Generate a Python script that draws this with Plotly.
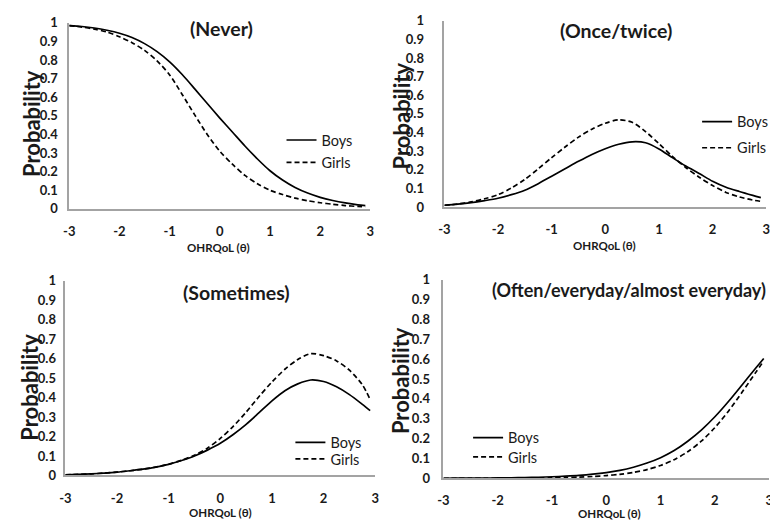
import plotly.graph_objects as go

# ---------------- data ----------------
THETA = [-3, -2.75, -2.5, -2.25, -2, -1.75, -1.5, -1.25, -1, -0.75, -0.5, -0.25,
         0, 0.25, 0.5, 0.75, 1, 1.25, 1.5, 1.75, 2, 2.25, 2.5, 2.75, 2.9]

NEVER_BOYS = [0.985, 0.980, 0.972, 0.960, 0.944, 0.921, 0.888, 0.845, 0.790, 0.722, 0.645, 0.566,
              0.488, 0.413, 0.338, 0.268, 0.205, 0.155, 0.115, 0.085, 0.062, 0.045, 0.032, 0.022, 0.018]
NEVER_GIRLS = [0.985, 0.977, 0.966, 0.950, 0.925, 0.893, 0.852, 0.795, 0.720, 0.615, 0.505, 0.400,
               0.310, 0.240, 0.180, 0.135, 0.100, 0.077, 0.058, 0.044, 0.033, 0.025, 0.018, 0.013, 0.011]

ONCE_BOYS = [0.009, 0.015, 0.023, 0.034, 0.047, 0.066, 0.090, 0.125, 0.165, 0.205, 0.245, 0.282,
             0.313, 0.337, 0.350, 0.345, 0.312, 0.265, 0.220, 0.180, 0.138, 0.106, 0.083, 0.062, 0.050]
ONCE_GIRLS = [0.009, 0.016, 0.027, 0.044, 0.066, 0.102, 0.148, 0.205, 0.265, 0.322, 0.375, 0.418,
              0.450, 0.468, 0.455, 0.405, 0.340, 0.272, 0.212, 0.160, 0.115, 0.078, 0.054, 0.037, 0.030]

SOMETIMES_BOYS = [0.003, 0.005, 0.008, 0.012, 0.017, 0.024, 0.032, 0.043, 0.057, 0.077, 0.100, 0.130,
                  0.165, 0.210, 0.262, 0.322, 0.383, 0.435, 0.470, 0.490, 0.482, 0.455, 0.415, 0.365, 0.333]
SOMETIMES_GIRLS = [0.003, 0.005, 0.008, 0.012, 0.017, 0.024, 0.032, 0.043, 0.058, 0.078, 0.104, 0.140,
                   0.190, 0.252, 0.325, 0.405, 0.480, 0.545, 0.595, 0.625, 0.615, 0.588, 0.540, 0.465, 0.390]

OFTEN_BOYS = [0.0005, 0.0007, 0.001, 0.0013, 0.002, 0.003, 0.004, 0.0055, 0.008, 0.011, 0.015, 0.021,
              0.029, 0.040, 0.056, 0.077, 0.104, 0.140, 0.187, 0.243, 0.310, 0.387, 0.470, 0.554, 0.603]
OFTEN_GIRLS = [0.0001, 0.0002, 0.0003, 0.0004, 0.0006, 0.0009, 0.0013, 0.0019, 0.0028, 0.0042, 0.0062, 0.0093,
               0.014, 0.020, 0.030, 0.044, 0.065, 0.094, 0.134, 0.187, 0.255, 0.338, 0.433, 0.532, 0.591]

PANEL_TITLES = ["(Never)", "(Once/twice)", "(Sometimes)", "(Often/everyday/almost everyday)"]
SERIES_NAMES = ["Boys", "Girls"]
X_TICKS = [-3, -2, -1, 0, 1, 2, 3]
Y_TICKS = [0, 0.1, 0.2, 0.3, 0.4, 0.5, 0.6, 0.7, 0.8, 0.9, 1]
Y_TICK_LABELS = ["0", "0.1", "0.2", "0.3", "0.4", "0.5", "0.6", "0.7", "0.8", "0.9", "1"]
X_TITLE = "OHRQoL (θ)"
Y_TITLE = "Probability"

# ---------------- layout geometry (pixels) ----------------
W, H = 778, 521
FONT = "Lato"
TXT = "#1a1a1a"
AXCOL = "#a3a3a3"

# (x_left, x_right, y_top(=1), y_bottom(=0)) per panel
PANELS = [
    (56, 361, 7, 199),
    (436, 762, 5, 197),
    (52, 366, 273, 474),
    (435, 765, 272, 477),
]
TITLE_POS = [(210, 13), (610, 15), (225, 285), (623, 283)]
TITLE_SIZE = [19.5, 19.5, 19.5, 18]
XTITLE_POS = [(207, 239), (598, 237), (209, 512), (603, 513)]
XSTANDOFF = [10, 10, 10, 9]
YTITLE_POS = [(2, 111), (377, 103), (0, 383), (376, 376)]
YSTANDOFF = [7, 16, 5, 9]
# legend line start x, Boys centre y, Girls centre y
LEGEND_POS = [(271, 128, 151), (692, 109, 136), (280, 440, 457), (460, 435, 455)]

data = [(NEVER_BOYS, NEVER_GIRLS), (ONCE_BOYS, ONCE_GIRLS),
        (SOMETIMES_BOYS, SOMETIMES_GIRLS), (OFTEN_BOYS, OFTEN_GIRLS)]

fig = go.Figure()
annotations = []
layout = {}

for i, (boys, girls) in enumerate(data):
    sfx = "" if i == 0 else str(i + 1)
    lx, yb_c, yg_c = LEGEND_POS[i]
    for j, (vals, dash, ly) in enumerate([(boys, "solid", yb_c), (girls, "5px,3px", yg_c)]):
        k = 2 * i + j + 1
        leg = "legend" if k == 1 else f"legend{k}"
        fig.add_trace(go.Scatter(
            x=THETA, y=vals, mode="lines", name=SERIES_NAMES[j],
            line=dict(color="black", width=1.7, dash=dash, shape="spline", smoothing=0.8),
            xaxis="x" + sfx, yaxis="y" + sfx, legend=leg,
            hoverinfo="skip"))
        layout[leg] = dict(x=lx / W, y=1 - ly / H, xanchor="left", yanchor="middle",
                           bgcolor="rgba(0,0,0,0)", borderwidth=0,
                           font=dict(family=FONT, size=14.5, color=TXT),
                           itemwidth=30)

    x0, x1, yt, yb = PANELS[i]
    layout["xaxis" + sfx] = dict(
        domain=[x0 / W, x1 / W], range=[-3, 3], anchor="y" + sfx,
        tickmode="array", tickvals=X_TICKS, ticktext=[str(v) for v in X_TICKS],
        showgrid=False, zeroline=False, showline=True, linecolor=AXCOL, linewidth=1.6,
        ticks="", ticklabelstandoff=XSTANDOFF[i],
        tickfont=dict(family=FONT, size=13, color=TXT, weight="bold"))
    layout["yaxis" + sfx] = dict(
        domain=[1 - yb / H, 1 - yt / H], range=[0, 1], anchor="x" + sfx,
        tickmode="array", tickvals=Y_TICKS, ticktext=Y_TICK_LABELS,
        showgrid=False, zeroline=False, showline=True, linecolor=AXCOL, linewidth=1.6,
        ticks="", ticklabelstandoff=YSTANDOFF[i],
        tickfont=dict(family=FONT, size=13, color=TXT, weight="bold"))

    tx, ty = TITLE_POS[i]
    annotations.append(dict(text=PANEL_TITLES[i], x=tx / W, y=1 - ty / H, xref="paper", yref="paper",
                            xanchor="center", yanchor="middle", showarrow=False,
                            font=dict(family=FONT, size=TITLE_SIZE[i], color=TXT, weight="bold")))
    ax_, ay_ = XTITLE_POS[i]
    annotations.append(dict(text=X_TITLE, x=ax_ / W, y=1 - ay_ / H, xref="paper", yref="paper",
                            xanchor="center", yanchor="middle", showarrow=False,
                            font=dict(family=FONT, size=11.5, color=TXT, weight="bold")))
    px_, py_ = YTITLE_POS[i]
    annotations.append(dict(text=Y_TITLE, x=px_ / W, y=1 - py_ / H, xref="paper", yref="paper",
                            xanchor="left", yanchor="middle", showarrow=False, textangle=-90,
                            font=dict(family=FONT, size=22, color=TXT, weight="bold")))

fig.update_layout(
    width=W, height=H, margin=dict(l=0, r=0, t=0, b=0),
    paper_bgcolor="white", plot_bgcolor="white",
    showlegend=True, annotations=annotations, **layout)

fig.write_html("out.html")
